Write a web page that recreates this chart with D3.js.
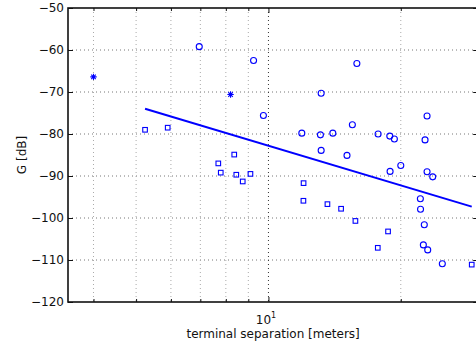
<!DOCTYPE html>
<html>
<head>
<meta charset="utf-8">
<script src="https://cdn.jsdelivr.net/npm/d3@7"></script>
<style>
  html, body { margin: 0; padding: 0; background: #fff; }
  svg { display: block; }
  text { font-family: "DejaVu Sans", sans-serif; fill: #111; }
</style>
</head>
<body>
<svg id="chart" width="476" height="348"></svg>
<script>
// ---- data ----
const circleX = [6.96, 9.25, 15.89, 13.18, 9.74, 22.95, 15.52, 11.91, 13.13, 14.01, 17.76, 18.88, 19.34, 22.71, 13.18, 15.09, 20.0, 18.91, 22.95, 23.64, 22.16, 22.18, 22.62, 22.51, 23.03, 24.86];
const circleY = [-59.2, -62.5, -63.2, -70.3, -75.6, -75.7, -77.8, -79.8, -80.2, -79.8, -80.0, -80.5, -81.2, -81.4, -83.9, -85.1, -87.5, -88.9, -89.0, -90.2, -95.4, -97.9, -101.6, -106.4, -107.6, -110.9];
const squareX = [5.24, 5.90, 8.36, 7.69, 7.79, 8.45, 9.10, 8.74, 12.02, 12.01, 13.62, 14.63, 15.77, 18.71, 17.73, 29.0];
const squareY = [-79.0, -78.5, -84.9, -87.0, -89.2, -89.7, -89.5, -91.3, -91.7, -95.9, -96.7, -97.8, -100.7, -103.2, -107.1, -111.1];
const starX = [4.0, 8.20];
const starY = [-66.4, -70.6];
const fitX = [5.24, 29.0];
const fitY = [-74.0, -97.3];
const yTicks = [-50, -60, -70, -80, -90, -100, -110, -120];
const xMajorTicks = [10];
const xMinorTicks = [4, 5, 6, 7, 8, 9, 20];
const xLabel = "terminal separation [meters]";
const yLabel = "G [dB]";

// ---- layout ----
const svg = d3.select("#chart");
const L = 68, T = 8, B = 302;
const x = d3.scaleLog().domain([3.5, 30]).range([L, 478.2]);
const y = d3.scaleLinear().domain([-120, -50]).range([B, T]);
const R = x(30);
const blue = "#0000ff";

// grid
const grid = svg.append("g");
grid.selectAll("line.hg").data(yTicks.slice(1, -1)).enter().append("line")
  .attr("x1", L).attr("x2", R).attr("y1", d => y(d)).attr("y2", d => y(d))
  .attr("stroke", "#777").attr("stroke-width", 1).attr("stroke-dasharray", "1,3");
grid.selectAll("line.vm").data(xMinorTicks).enter().append("line")
  .attr("x1", d => x(d)).attr("x2", d => x(d)).attr("y1", T).attr("y2", B)
  .attr("stroke", "#aaa").attr("stroke-width", 1).attr("stroke-dasharray", "1,3");
grid.selectAll("line.vM").data(xMajorTicks).enter().append("line")
  .attr("x1", d => x(d)).attr("x2", d => x(d)).attr("y1", T).attr("y2", B)
  .attr("stroke", "#333").attr("stroke-width", 1).attr("stroke-dasharray", "1,3");

// axes with inward ticks
const axL = d3.axisLeft(y).tickValues(yTicks).tickSize(-5).tickFormat("");
const axR = d3.axisRight(y).tickValues(yTicks).tickSize(-5).tickFormat("");
const axB = d3.axisBottom(x).tickValues(xMajorTicks).tickSize(-5).tickFormat("");
const axBm = d3.axisBottom(x).tickValues(xMinorTicks).tickSize(-3).tickFormat("");
const axT = d3.axisTop(x).tickValues(xMajorTicks).tickSize(-5).tickFormat("");
const axTm = d3.axisTop(x).tickValues(xMinorTicks).tickSize(-3).tickFormat("");
function styleAx(g) {
  g.select(".domain").remove();
  g.selectAll(".tick line").attr("stroke", "#111").attr("stroke-width", 1);
}
svg.append("g").attr("transform", `translate(${L},0)`).call(axL).call(styleAx);
svg.append("g").attr("transform", `translate(${R},0)`).call(axR).call(styleAx);
svg.append("g").attr("transform", `translate(0,${B})`).call(axB).call(styleAx);
svg.append("g").attr("transform", `translate(0,${B})`).call(axBm).call(styleAx);
svg.append("g").attr("transform", `translate(0,${T})`).call(axT).call(styleAx);
svg.append("g").attr("transform", `translate(0,${T})`).call(axTm).call(styleAx);

// box
svg.append("rect").attr("x", L).attr("y", T).attr("width", R - L).attr("height", B - T)
  .attr("fill", "none").attr("stroke", "#111").attr("stroke-width", 1.6);

// y tick labels
svg.append("g").selectAll("text").data(yTicks).enter().append("text")
  .attr("x", L - 4).attr("y", d => y(d) + 4.4)
  .attr("text-anchor", "end").attr("font-size", 12)
  .text(d => d3.format("")(d).replace("-", "\u2212"));

// x tick labels: 10^1
xMajorTicks.forEach(v => {
  const t = svg.append("text").attr("x", x(v) - 2.5).attr("y", B + 22)
    .attr("text-anchor", "middle").attr("font-size", 12);
  t.append("tspan").text("10");
  t.append("tspan").attr("font-size", 8).attr("dy", -6).text(String(Math.round(Math.log10(v))));
});

// axis labels
svg.append("text").attr("x", (L + R) / 2).attr("y", B + 36)
  .attr("text-anchor", "middle").attr("font-size", 12).text(xLabel);
svg.append("text").attr("transform", `translate(26,${(T + B) / 2}) rotate(-90)`)
  .attr("text-anchor", "middle").attr("font-size", 12).text(yLabel);

// data
const plot = svg.append("g");
plot.append("path")
  .datum(fitX.map((d, i) => [d, fitY[i]]))
  .attr("d", d3.line().x(d => x(d[0])).y(d => y(d[1])))
  .attr("stroke", blue).attr("stroke-width", 2).attr("fill", "none");

plot.selectAll("circle").data(circleX.map((d, i) => [d, circleY[i]])).enter().append("circle")
  .attr("cx", d => x(d[0])).attr("cy", d => y(d[1])).attr("r", 3)
  .attr("fill", "none").attr("stroke", blue).attr("stroke-width", 1.1);

const sq = 4.6;
plot.selectAll("rect.sq").data(squareX.map((d, i) => [d, squareY[i]])).enter().append("rect")
  .attr("class", "sq")
  .attr("x", d => x(d[0]) - sq / 2).attr("y", d => y(d[1]) - sq / 2)
  .attr("width", sq).attr("height", sq)
  .attr("fill", "none").attr("stroke", blue).attr("stroke-width", 1.1);

const starSym = d3.symbol().type({
  draw(ctx, size) {
    const r = 3.2, a = r * Math.SQRT1_2;
    ctx.moveTo(-r, 0); ctx.lineTo(r, 0);
    ctx.moveTo(0, -r); ctx.lineTo(0, r);
    ctx.moveTo(-a, -a); ctx.lineTo(a, a);
    ctx.moveTo(-a, a); ctx.lineTo(a, -a);
  }
});
plot.selectAll("path.star").data(starX.map((d, i) => [d, starY[i]])).enter().append("path")
  .attr("class", "star")
  .attr("transform", d => `translate(${x(d[0])},${y(d[1])})`)
  .attr("d", starSym())
  .attr("fill", "none").attr("stroke", blue).attr("stroke-width", 1.1);
</script>
</body>
</html>
